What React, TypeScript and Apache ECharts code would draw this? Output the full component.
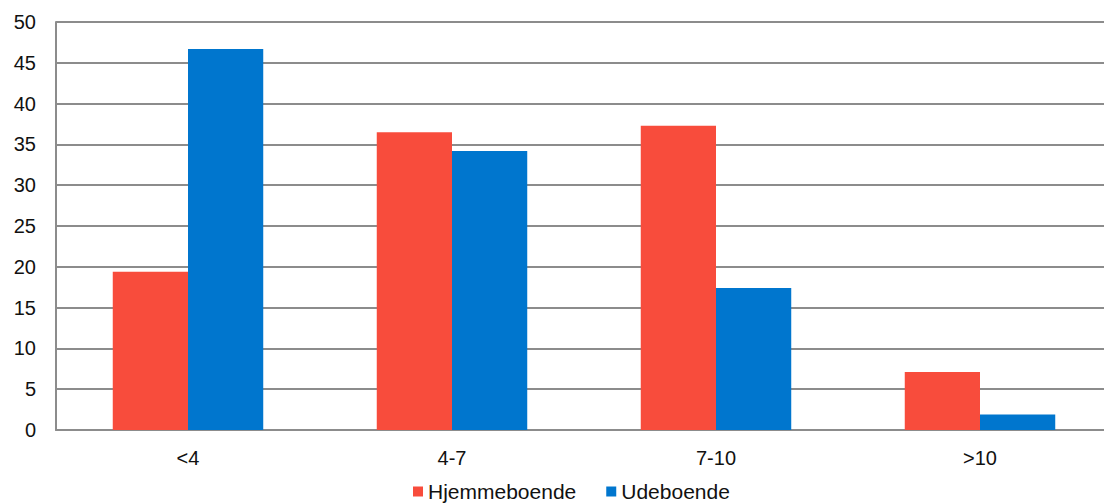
import React, { useEffect, useRef } from "react";
import * as echarts from "echarts";

const categories = ["<4", "4-7", "7-10", ">10"];
const hjemmeboende = [19.4, 36.5, 37.3, 7.1];
const udeboende = [46.7, 34.2, 17.4, 1.9];

export default function App() {
  const ref = useRef<HTMLDivElement>(null);
  useEffect(() => {
    const chart = echarts.init(ref.current!, null, { renderer: "svg" });
    const font = "'Liberation Sans', Arial, sans-serif";
    chart.setOption({
      animation: false,
      textStyle: { fontFamily: font },
      grid: {
        left: 56,
        width: 1056,
        top: 22,
        bottom: 73,
        containLabel: false,
        outerBoundsMode: "none",
      },
      legend: {
        bottom: -4,
        left: 408,
        itemWidth: 10,
        itemHeight: 10,
        itemGap: 30,
        icon: "rect",
        textStyle: { fontSize: 21, color: "#111", fontFamily: font },
        data: ["Hjemmeboende", "Udeboende"],
      },
      xAxis: {
        type: "category",
        data: categories,
        axisLine: { lineStyle: { color: "#8c8c8c", width: 2 } },
        axisTick: { show: false },
        axisLabel: { fontSize: 20, color: "#111", margin: 18, fontFamily: font },
      },
      yAxis: {
        type: "value",
        min: 0,
        max: 50,
        interval: 5,
        axisLine: { show: true, lineStyle: { color: "#8c8c8c", width: 2 } },
        axisTick: { show: false },
        splitLine: { lineStyle: { color: "#8c8c8c", width: 2 } },
        axisLabel: { fontSize: 20, color: "#111", margin: 20, fontFamily: font },
      },
      series: [
        {
          name: "Hjemmeboende",
          type: "bar",
          data: hjemmeboende,
          barGap: "0%",
          barCategoryGap: "43%",
          itemStyle: { color: "#F84C3C" },
        },
        {
          name: "Udeboende",
          type: "bar",
          data: udeboende,
          itemStyle: { color: "#0076CE" },
        },
      ],
    });
    return () => chart.dispose();
  }, []);
  return <div ref={ref} style={{ width: 1104, height: 503, position: "absolute", left: 0, top: 0 }} />;
}
